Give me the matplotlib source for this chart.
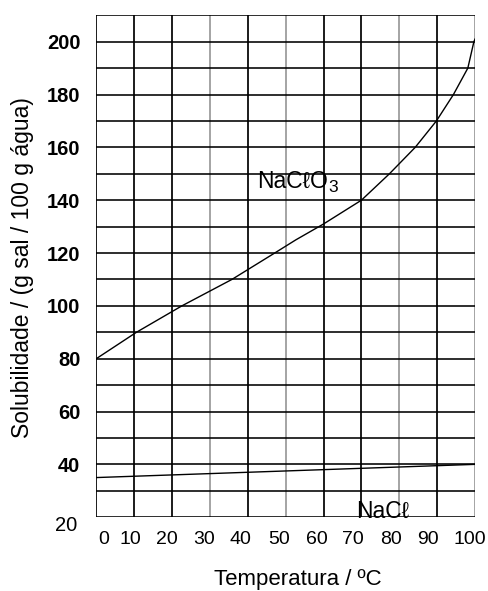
import matplotlib
matplotlib.use("Agg")
import matplotlib.pyplot as plt
from matplotlib.transforms import ScaledTranslation

plt.rcParams["font.family"] = ["Liberation Sans", "DejaVu Sans"]

# solubility curves (temperature in ºC, g salt / 100 g water)
chlorate_temp = [0, 10.6, 22.6, 35.8, 47.1, 52.7, 60, 70, 77.4, 84.2, 89.8, 94.3, 98.1, 99.7, 100]
chlorate_sol = [80, 90, 100, 110, 120, 125, 131, 140, 150, 160, 170, 180, 190, 200, 201]
chloride_temp = [0, 20, 40, 60, 80, 100]
chloride_sol = [35, 36, 37, 38, 39, 40]

x_ticks = [0, 10, 20, 30, 40, 50, 60, 70, 80, 90, 100]
y_ticks = [20, 40, 60, 80, 100, 120, 140, 160, 180, 200]
gray_verticals = [30, 50, 80, 100]

# horizontal shift (px) of the x tick labels, they sit off the grid lines in the original
x_label_shift = [7, -4, -5, -6, -7, -7, -7, -9, -8, -9, -5]

fig = plt.figure(figsize=(4.88, 5.91), dpi=100)
ax = fig.add_axes([0.1973, 0.1249, 0.7761, 0.8492])
ax.set_xlim(0, 100)
ax.set_ylim(20, 210)

# grid
for t in range(0, 101, 10):
    col = "#999999" if t in gray_verticals else "black"
    ax.axvline(t, color=col, lw=1.25, zorder=1)
for s in range(20, 211, 10):
    ax.axhline(s, color="black", lw=1.15, zorder=1)
for sp in ax.spines.values():
    sp.set_visible(False)

ax.plot(chlorate_temp, chlorate_sol, color="black", lw=1.0, zorder=3)
ax.plot(chloride_temp, chloride_sol, color="black", lw=1.0, zorder=3)

# curve names
t1 = ax.text(42.5, 147, "NaCℓO", fontsize=16.5, va="center", ha="left", zorder=4)
ax.annotate("3", xy=(1, 0), xycoords=t1, xytext=(0.5, -1.5), textcoords="offset points",
            fontsize=12.5, va="bottom", ha="left")
t2 = ax.text(68.5, 22.3, "NaCℓ", fontsize=16.5, va="center", ha="left", zorder=4)

# ticks
ax.tick_params(length=0)
ax.set_xticks(x_ticks)
ax.set_xticklabels([str(v) for v in x_ticks], fontsize=14)
ax.tick_params(axis="x", pad=10)
for lab, dx in zip(ax.get_xticklabels(), x_label_shift):
    lab.set_transform(lab.get_transform() + ScaledTranslation(dx / 100, 0, fig.dpi_scale_trans))

ax.set_yticks(y_ticks)
ax.set_yticklabels([str(v) for v in y_ticks], fontsize=14.5)
ax.tick_params(axis="y", pad=11.5)
for lab, v in zip(ax.get_yticklabels(), y_ticks):
    if v == 20:
        lab.set_transform(lab.get_transform() + ScaledTranslation(-3 / 100, -6 / 100, fig.dpi_scale_trans))
    else:
        lab.set_fontweight("bold")

fig.text(298 / 488, 1 - 579 / 591, "Temperatura / ºC", fontsize=16, ha="center", va="center")
fig.text(23 / 488, 1 - 268 / 591, "Solubilidade / (g sal / 100 g água)", fontsize=16.5,
         ha="center", va="center", rotation=90)

fig.savefig("out.png", dpi=100)
